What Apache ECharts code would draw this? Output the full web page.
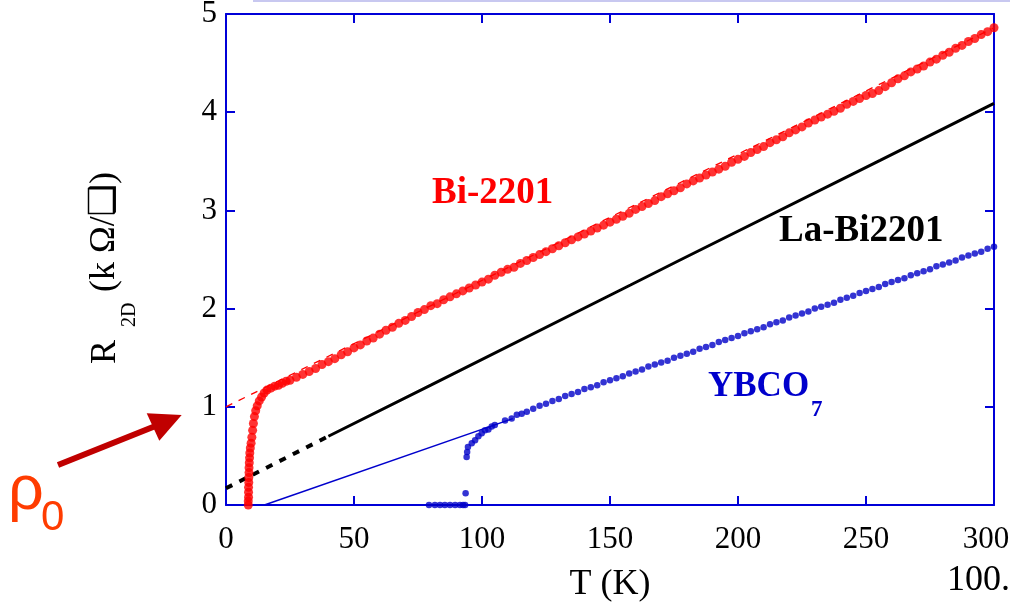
<!DOCTYPE html>
<html>
<head>
<meta charset="utf-8">
<script src="https://cdn.jsdelivr.net/npm/echarts@6/dist/echarts.min.js"></script>
<style>html,body{margin:0;padding:0;background:#fff;}#c{width:1010px;height:609px;}</style>
</head>
<body>
<div id="c"></div>
<script>
// ---- data ----
const xTicks = [0, 50, 100, 150, 200, 250, 300];
const yTicks = [0, 1, 2, 3, 4, 5];

// Bi-2201 measured points (T in K, R in kOhm/sq)
const biT = [8.7,8.7,8.8,8.8,8.8,8.9,8.9,9.0,9.0,9.1,9.2,9.3,9.5,9.8,10.1,10.4,10.7,11.1,11.6,12.2,13.0,13.9,14.9,16.0,17.5,19.0,20.5,22.0,23.5,
  25,27.5,30,32.5,35,37.5,40,42.5,45,47.5,50,52.5,55,57.5,60,62.5,65,67.5,70,72.5,75,77.5,80,82.5,85,87.5,90,92.5,95,97.5,
  100,102.5,105,107.5,110,112.5,115,117.5,120,122.5,125,127.5,130,132.5,135,137.5,140,142.5,145,147.5,150,152.5,155,157.5,
  160,162.5,165,167.5,170,172.5,175,177.5,180,182.5,185,187.5,190,192.5,195,197.5,200,202.5,205,207.5,210,212.5,215,217.5,
  220,222.5,225,227.5,230,232.5,235,237.5,240,242.5,245,247.5,250,252.5,255,257.5,260,262.5,265,267.5,270,272.5,275,277.5,
  280,282.5,285,287.5,290,292.5,295,297.5,300];
const biR = [0.00,0.04,0.08,0.13,0.18,0.23,0.28,0.33,0.38,0.43,0.48,0.53,0.58,0.63,0.69,0.76,0.83,0.90,0.96,1.01,1.06,1.10,1.14,1.17,1.19,1.21,1.22,1.24,1.26,
  1.27,1.30,1.33,1.36,1.39,1.43,1.46,1.49,1.53,1.56,1.60,1.63,1.67,1.70,1.74,1.78,1.81,1.85,1.88,1.92,1.96,1.99,2.03,2.05,2.09,2.12,2.15,2.18,2.21,2.24,
  2.27,2.30,2.34,2.37,2.40,2.42,2.46,2.49,2.52,2.55,2.58,2.61,2.64,2.67,2.70,2.73,2.76,2.79,2.82,2.85,2.88,2.91,2.94,2.97,
  3.01,3.04,3.07,3.10,3.14,3.17,3.20,3.23,3.27,3.30,3.33,3.36,3.39,3.42,3.45,3.49,3.52,3.55,3.59,3.62,3.65,3.69,3.72,3.75,
  3.79,3.82,3.85,3.89,3.92,3.95,3.98,4.01,4.04,4.08,4.11,4.14,4.17,4.19,4.22,4.26,4.30,4.34,4.37,4.41,4.44,4.47,4.51,4.54,
  4.58,4.61,4.65,4.68,4.72,4.75,4.79,4.82,4.86];

// Bi-2201 linear fit (dashed red)
const biFitT = [0, 300];
const biFitR = [1.0, 4.86];

// La-Bi2201 line (solid) and its extrapolation (dotted)
const laT = [40, 80, 158, 177, 255.5, 300];
const laR = [0.70, 1.22, 2.24, 2.49, 3.51, 4.09];
const laExtT = [0, 40];
const laExtR = [0.17, 0.70];

// YBCO7 measured points
const ybT = [79.3,81.6,83.6,85.5,87.5,89.5,91.4,92.6,93.4,93.6,
  94.0,94.2,94.5,96.0,97.3,98.6,99.9,101.2,102.5,103.8,105,109,111.6,113.6,115.5,117.5,
  120,122.5,125,127.5,130,132.5,135,137.5,140,142.5,145,147.5,150,152.5,155,157.5,
  160,162.5,165,167.5,170,172.5,175,177.5,180,182.5,185,187.5,190,192.5,195,197.5,
  200,202.5,205,207.5,210,212.5,215,217.5,220,222.5,225,227.5,230,232.5,235,237.5,
  240,242.5,245,247.5,250,252.5,255,257.5,260,262.5,265,267.5,270,272.5,275,277.5,
  280,282.5,285,287.5,290,292.5,295,297.5,300];
const ybR = [0,0,0,0,0,0,0,0,0,0.12,
  0.49,0.54,0.59,0.63,0.66,0.70,0.73,0.76,0.77,0.80,0.815,0.86,0.88,0.92,0.93,0.95,
  0.98,1.01,1.03,1.06,1.08,1.11,1.13,1.15,1.18,1.20,1.22,1.25,1.27,1.29,1.31,1.34,
  1.36,1.38,1.41,1.43,1.45,1.47,1.50,1.52,1.54,1.56,1.59,1.61,1.63,1.66,1.68,1.70,
  1.72,1.75,1.77,1.79,1.81,1.84,1.86,1.88,1.91,1.93,1.95,1.97,2.00,2.02,2.04,2.06,
  2.09,2.11,2.13,2.16,2.18,2.20,2.22,2.25,2.27,2.29,2.31,2.34,2.36,2.38,2.40,2.43,
  2.45,2.47,2.49,2.52,2.54,2.56,2.58,2.61,2.63];

// YBCO7 linear guide (thin blue)
const ybFitT = [15, 112];
const ybFitR = [0, 0.88];

// ---- chart ----
const zip = (a, b) => a.map((v, i) => [v, b[i]]);
const AX = '#0000d8';
const SERIF = '"Liberation Serif", "Times New Roman", serif';
const xMax = xTicks[xTicks.length - 1];

const chart = echarts.init(document.getElementById('c'), null, {renderer: 'canvas'});

const axisCommon = {
  type: 'value',
  axisLine: {show: true, onZero: false, lineStyle: {color: AX, width: 2}},
  axisTick: {show: true, inside: true, length: 9, lineStyle: {color: AX, width: 2}},
  splitLine: {show: false}
};

chart.setOption({
  animation: false,
  backgroundColor: '#fff',
  grid: {left: 226, right: 16, top: 14, bottom: 104, containLabel: false, outerBoundsMode: 'none'},
  xAxis: [
    Object.assign({}, axisCommon, {
      position: 'bottom', min: xTicks[0], max: xMax, interval: 50,
      axisLabel: {
        color: '#000', fontFamily: SERIF, fontSize: 31, margin: 19,
        formatter: v => (v === xMax ? '{last|' + v + '}' : String(v)),
        rich: {last: {fontFamily: SERIF, fontSize: 31, color: '#000', padding: [0, 16, 0, 0]}}
      },
      name: 'T (K)', nameLocation: 'middle', nameGap: 62,
      nameTextStyle: {color: '#000', fontFamily: SERIF, fontSize: 36}
    }),
    Object.assign({}, axisCommon, {
      position: 'top', min: xTicks[0], max: xMax, interval: 50,
      axisLabel: {show: false}
    })
  ],
  yAxis: [
    Object.assign({}, axisCommon, {
      position: 'left', min: yTicks[0], max: yTicks[yTicks.length - 1], interval: 1,
      axisLabel: {color: '#000', fontFamily: SERIF, fontSize: 31, margin: 9}
    }),
    Object.assign({}, axisCommon, {
      position: 'right', min: yTicks[0], max: yTicks[yTicks.length - 1], interval: 1,
      axisLabel: {show: false}
    })
  ],
  series: [
    {type: 'line', data: zip(biFitT, biFitR), symbol: 'none', silent: true, z: 1,
      lineStyle: {color: '#ff0000', width: 1.3, type: [7, 7]}},
    {type: 'line', data: zip(laExtT, laExtR), symbol: 'none', silent: true, z: 2,
      lineStyle: {color: '#000', width: 4, type: [7, 8]}},
    {type: 'line', data: zip(laT, laR), symbol: 'none', silent: true, z: 2,
      lineStyle: {color: '#000', width: 3}},
    {type: 'line', data: zip(ybFitT, ybFitR), symbol: 'none', silent: true, z: 2,
      lineStyle: {color: '#0000cc', width: 1.5}},
    {type: 'scatter', data: zip(biT, biR), symbol: 'circle', symbolSize: 9, clip: false, z: 3,
      itemStyle: {color: '#ff0000'}},
    {type: 'scatter', data: zip(ybT, ybR), symbol: 'circle', symbolSize: 6.5, clip: false, z: 3,
      itemStyle: {color: '#0000c8'}}
  ],
  graphic: [
    // faint line along the top edge
    {type: 'rect', shape: {x: 253, y: 0, width: 757, height: 2}, style: {fill: '#c8c8f0'}, silent: true},
    // y-axis title, rotated
    {type: 'group', x: 106, y: 364, rotation: Math.PI / 2, silent: true, children: [
      {type: 'text', x: 0, y: 0, style: {text: 'R', fontFamily: SERIF, fontSize: 36, fill: '#000', align: 'left', verticalAlign: 'middle'}},
      {type: 'text', x: 37, y: 24, style: {text: '2D', fontFamily: SERIF, fontSize: 20, fill: '#000', align: 'left', verticalAlign: 'middle'}},
      {type: 'text', x: 72, y: -1, style: {text: '(k Ω/\u2751)', fontFamily: '"Liberation Serif", "DejaVu Sans", serif', fontSize: 36, fill: '#000', align: 'left', verticalAlign: 'middle'}}
    ]},
    // series labels
    {type: 'text', x: 432, y: 193, silent: true, style: {text: 'Bi-2201', fontFamily: SERIF, fontWeight: 'bold', fontSize: 37, fill: '#ff0000', align: 'left', verticalAlign: 'middle'}},
    {type: 'text', x: 779, y: 231, silent: true, style: {text: 'La-Bi2201', fontFamily: SERIF, fontWeight: 'bold', fontSize: 37, fill: '#000', align: 'left', verticalAlign: 'middle'}},
    {type: 'text', x: 708, y: 387, silent: true, style: {text: 'YBCO', fontFamily: SERIF, fontWeight: 'bold', fontSize: 35, fill: '#0000cc', align: 'left', verticalAlign: 'middle'}},
    {type: 'text', x: 811, y: 410, silent: true, style: {text: '7', fontFamily: SERIF, fontWeight: 'bold', fontSize: 23, fill: '#0000cc', align: 'left', verticalAlign: 'middle'}},
    // rho_0 annotation and arrow
    {type: 'text', x: 8, y: 492, silent: true, style: {text: 'ρ', fontFamily: '"Liberation Sans", Arial, sans-serif', fontSize: 63, fill: '#ff3c00', align: 'left', verticalAlign: 'middle'}},
    {type: 'text', x: 41, y: 518, silent: true, style: {text: '0', fontFamily: '"Liberation Sans", Arial, sans-serif', fontSize: 42, fill: '#ff3c00', align: 'left', verticalAlign: 'middle'}},
    {type: 'line', shape: {x1: 58, y1: 465, x2: 158, y2: 425}, style: {stroke: '#c00000', lineWidth: 6}, silent: true},
    {type: 'polygon', shape: {points: [[146.7, 413.3], [181.7, 415], [159.3, 440.7]]}, style: {fill: '#c00000'}, silent: true},
    // page number fragment
    {type: 'text', x: 1010, y: 581, silent: true, style: {text: '100.', fontFamily: SERIF, fontSize: 36, fill: '#000', align: 'right', verticalAlign: 'middle'}}
  ]
});
</script>
</body>
</html>
